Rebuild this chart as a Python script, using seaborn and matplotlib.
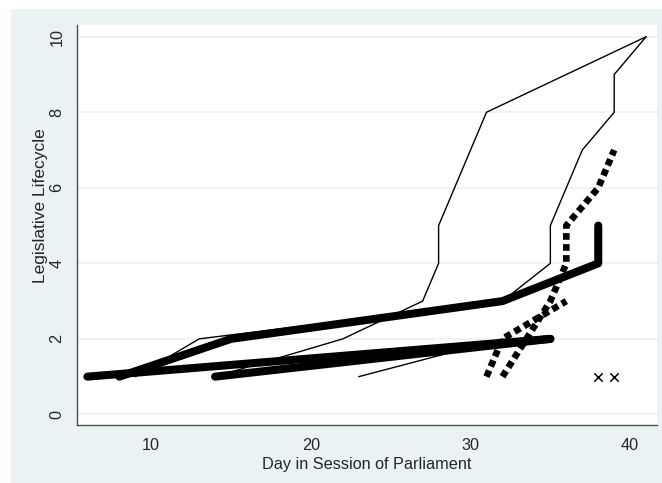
import matplotlib
matplotlib.use("Agg")
import matplotlib.pyplot as plt
import seaborn as sns
from matplotlib.patches import Rectangle

# day in session / stage reached, one pair of lists per bill
thin_a_day = [14, 22, 27, 28, 28, 31, 41]
thin_a_stage = [1, 2, 3, 4, 5, 8, 10]
thin_b_day = [9, 13, 32, 35, 35, 37, 39, 39, 41]
thin_b_stage = [1, 2, 3, 4, 5, 7, 8, 9, 10]
thin_c_day = [23, 32]
thin_c_stage = [1, 2]

thick_a_day = [8, 15, 32, 38, 38]
thick_a_stage = [1, 2, 3, 4, 5]
thick_b_day = [6, 35]
thick_b_stage = [1, 2]
thick_c_day = [14, 35]
thick_c_stage = [1, 2]

dot_a_day = [31, 32, 36]
dot_a_stage = [1, 2, 3]
dot_b_day = [32, 35, 36, 36, 38, 39]
dot_b_stage = [1, 3, 4, 5, 6, 7]

cross_day = [38, 39]
cross_stage = [1, 1]

y_ticks = [0, 2, 4, 6, 8, 10]
x_ticks = [10, 20, 30, 40]

bg = "#eaf2f3"
axis_col = "#4d4d4d"
fs = 11.7

sns.set_style("white")
plt.rcParams["font.family"] = ["Liberation Sans", "DejaVu Sans"]

fig = plt.figure(figsize=(6.62, 4.83), dpi=100, facecolor="white")
fig.add_artist(Rectangle((11 / 662, 0), 1 - 11 / 662, 1 - 9 / 483,
                         transform=fig.transFigure, facecolor=bg,
                         edgecolor="none", zorder=-10))
ax = fig.add_axes([77 / 662, 1 - 425 / 483, (657 - 77) / 662, (425 - 25) / 483])
ax.set_facecolor("white")

for y in y_ticks:
    ax.axhline(y, color=bg, lw=1.2, zorder=0)

def draw(days, stages, **kw):
    sns.lineplot(x=days, y=stages, sort=False, estimator=None, color="black",
                 ax=ax, **kw)

for d, s in [(thin_a_day, thin_a_stage), (thin_b_day, thin_b_stage),
             (thin_c_day, thin_c_stage)]:
    draw(d, s, lw=1.0, solid_joinstyle="miter")

for d, s in [(thick_a_day, thick_a_stage), (thick_b_day, thick_b_stage),
             (thick_c_day, thick_c_stage)]:
    draw(d, s, lw=5.8, solid_capstyle="round", solid_joinstyle="round")

for d, s in [(dot_a_day, dot_a_stage), (dot_b_day, dot_b_stage)]:
    draw(d, s, lw=4.8, linestyle=(0, (1.0, 0.65)), dash_capstyle="butt")

sns.scatterplot(x=cross_day, y=cross_stage, marker="x", s=36, color="black",
                linewidth=1.1, ax=ax)

ax.set_xlim(5.35, 41.68)
ax.set_ylim(-0.28, 10.31)
ax.set_xticks(x_ticks)
ax.set_yticks(y_ticks)
ax.set_yticklabels([str(t) for t in y_ticks], rotation=90, va="center")
ax.tick_params(axis="both", length=6, width=0.9, color=axis_col,
               labelsize=fs, pad=3, direction="out")
for side in ["top", "right"]:
    ax.spines[side].set_visible(False)
for side in ["left", "bottom"]:
    ax.spines[side].set_color(axis_col)
    ax.spines[side].set_linewidth(1.0)

ax.set_xlabel("Day in Session of Parliament", fontsize=fs, labelpad=3)
ax.set_ylabel("Legislative Lifecycle", fontsize=12.5)
ax.yaxis.set_label_coords(-0.05, 0.5475)

fig.savefig("out.png", dpi=100, facecolor=fig.get_facecolor())
